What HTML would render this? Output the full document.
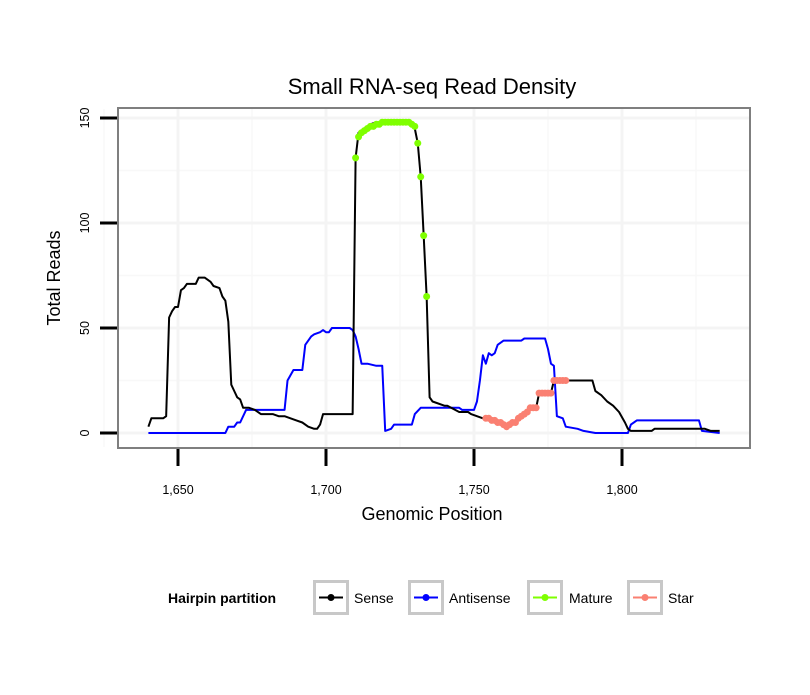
<!DOCTYPE html>
<html><head><meta charset="utf-8"><style>
body{margin:0;background:#fff;}
svg text{font-family:"Liberation Sans",sans-serif;}
</style></head><body>
<svg id="chart" width="810" height="690" xmlns="http://www.w3.org/2000/svg">
<text x="432" y="94" font-size="22" text-anchor="middle">Small RNA-seq Read Density</text>
<g id="grid"></g>
<g id="series"></g>
<rect x="118" y="108" width="632" height="340" fill="none" stroke="#7f7f7f" stroke-width="2"/>
<g id="axes"></g>
<text x="432" y="520" font-size="18" text-anchor="middle">Genomic Position</text>
<text transform="translate(60,278) rotate(-90)" font-size="18" text-anchor="middle">Total Reads</text>
<g id="legend">
<text x="168" y="603" font-size="14" font-weight="bold">Hairpin partition</text>
</g>
</svg>
<script>
const xTicks=[1650,1700,1750,1800];
const xTickLabels=["1,650","1,700","1,750","1,800"];
const yTicks=[0,50,100,150];
const senseX=[1640,1641,1645,1646,1647,1648,1649,1650,1651,1652,1653,1656,1657,1659,1660,1661,1662,1664,1665,1666,1667,1668,1669,1670,1671,1672,1674,1676,1678,1682,1684,1686,1688,1690,1692,1694,1696,1697,1698,1699,1709,1710,1711,1712,1713,1714,1715,1717,1728,1729,1730,1731,1732,1733,1734,1735,1736,1740,1741,1745,1748,1749,1753];
const senseY=[3,7,7,8,55,58,60,60,68,69,71,71,74,74,73,72,70,69,65,63,53,23,20,17,16,12,12,11,9,9,8,8,7,6,5,3,2,2,4,9,9,131,143,144,145,146,147,148,148,147,145,138,122,94,65,17,15,13,13,10,10,9,7];
const senseX2=[1777,1790,1791,1793,1795,1797,1799,1801,1802,1803,1810,1811,1828,1830,1833];
const senseY2=[25,25,20,18,15,13,10,5,2,1,1,2,2,1,1];
const antiX=[1640,1666,1667,1669,1670,1671,1673,1686,1687,1689,1692,1693,1695,1696,1698,1699,1700,1701,1702,1708,1709,1710,1711,1712,1714,1717,1719,1720,1722,1723,1729,1730,1732,1745,1746,1750,1751,1752,1753,1754,1755,1756,1757,1758,1760,1766,1767,1774,1775,1776,1777,1778,1780,1781,1785,1787,1791,1802,1803,1805,1826,1827,1833];
const antiY=[0,0,3,3,5,5,11,11,25,30,30,42,46,47,48,49,48,48,50,50,49,46,40,33,33,32,32,1,2,4,4,9,12,12,11,11,15,25,37,33,38,37,38,42,44,44,45,45,40,33,32,8,7,3,2,1,0,0,4,6,6,1,0];
const matureX=[1710,1711,1712,1713,1714,1715,1716,1717,1718,1719,1720,1721,1722,1723,1724,1725,1726,1727,1728,1729,1730,1731,1732,1733,1734];
const matureY=[131,141,143,144,145,146,146,147,147,148,148,148,148,148,148,148,148,148,148,147,146,138,122,94,65];
const starX=[1754,1755,1756,1757,1758,1759,1760,1761,1762,1763,1764,1765,1766,1767,1768,1769,1770,1771,1772,1773,1774,1775,1776,1777,1778,1779,1780,1781];
const starY=[7,7,6,6,5,5,4,3,4,5,5,7,8,9,10,12,12,12,19,19,19,19,19,25,25,25,25,25];
const legendLabels=["Sense","Antisense","Mature","Star"];
const legendColors=["#000000","#0000ff","#7fff00","#fa8072"];

const NS="http://www.w3.org/2000/svg";
function sx(v){return 178+(v-1650)*2.96;}
function sy(v){return 433-v*2.1;}
function mk(tag,attrs,parent){const e=document.createElementNS(NS,tag);for(const k in attrs)e.setAttribute(k,attrs[k]);parent.appendChild(e);return e;}
const grid=document.getElementById('grid'),axes=document.getElementById('axes'),series=document.getElementById('series'),legend=document.getElementById('legend');
const minorX=xTicks.map(v=>v-25).concat([xTicks[xTicks.length-1]+25]);
for(let i=0;i<minorX.length;i++){const l=mk('line',{x1:sx(minorX[i]),x2:sx(minorX[i]),y1:109,y2:447,stroke:'#f8f8f8','stroke-width':1.5},grid);

}
for(let i=0;i<yTicks.length-1;i++){const v=yTicks[i]+25;const l=mk('line',{x1:119,x2:749,y1:sy(v),y2:sy(v),stroke:'#f8f8f8','stroke-width':1.5},grid);

}
for(let i=0;i<xTicks.length;i++){
const g=mk('line',{x1:sx(xTicks[i]),x2:sx(xTicks[i]),y1:109,y2:447,stroke:'#f4f4f4','stroke-width':3},grid);


const t=mk('line',{x1:sx(xTicks[i]),x2:sx(xTicks[i]),y1:449,y2:466,stroke:'#000','stroke-width':3},axes);


const tx=mk('text',{x:sx(xTicks[i]),y:494,'font-size':12.5,'text-anchor':'middle'},axes);tx.textContent=xTickLabels[i];

}
for(let i=0;i<yTicks.length;i++){
const g=mk('line',{x1:119,x2:749,y1:sy(yTicks[i]),y2:sy(yTicks[i]),stroke:'#f4f4f4','stroke-width':3},grid);


const t=mk('line',{x1:100,x2:117,y1:sy(yTicks[i]),y2:sy(yTicks[i]),stroke:'#000','stroke-width':3},axes);


const tx=mk('text',{transform:`translate(89,${sy(yTicks[i])}) rotate(-90)`,'font-size':12.5,'text-anchor':'middle'},axes);tx.textContent=yTicks[i];

}
function line(xs,ys,col,name){const p=mk('polyline',{points:xs.map((x,i)=>sx(x)+','+sy(ys[i])).join(' '),fill:'none',stroke:col,'stroke-width':2,'stroke-linejoin':'round'},series);

}
function pts(xs,ys,col,name){for(let i=0;i<xs.length;i++){const c=mk('circle',{cx:sx(xs[i]),cy:sy(ys[i]),r:3.5,fill:col},series);

}}
line(antiX,antiY,'#0000ff','antisense-line');
line(senseX.concat(starX,senseX2),senseY.concat(starY,senseY2),'#000','sense-line');
pts(matureX,matureY,'#7fff00','mature');
pts(starX,starY,'#fa8072','star');
const lx=[313,408,527,627];const tx2=[354,449,569,668];
for(let i=0;i<legendLabels.length;i++){
const r=mk('rect',{x:lx[i]+1.5,y:581.5,width:33,height:32,fill:'#fff',stroke:'#c8c8c8','stroke-width':3},legend);


const l=mk('line',{x1:lx[i]+6,x2:lx[i]+30,y1:597.5,y2:597.5,stroke:legendColors[i],'stroke-width':2},legend);


const c=mk('circle',{cx:lx[i]+18,cy:597.5,r:3.5,fill:legendColors[i]},legend);


const t=mk('text',{x:tx2[i],y:603,'font-size':14},legend);t.textContent=legendLabels[i];

}
</script>
</body></html>
